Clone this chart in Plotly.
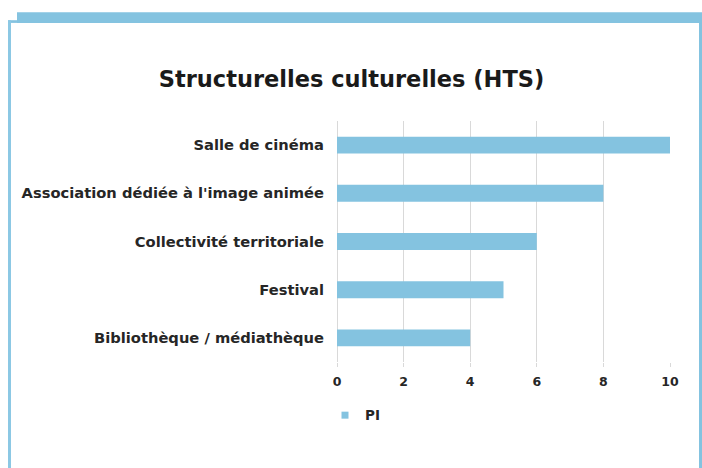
import plotly.graph_objects as go

categories = ["Salle de cinéma", "Association dédiée à l'image animée",
              "Collectivité territoriale", "Festival", "Bibliothèque / médiathèque"]
values = [10, 8, 6, 5, 4]
series_name = "PI"
title_text = "Structurelles culturelles (HTS)"
x_ticks = [0, 2, 4, 6, 8, 10]

BLUE = "#84C3E0"
W, H = 702, 468
PLOT_L, PLOT_R, PLOT_T, PLOT_B = 337, 670, 121, 362.5  # page pixels
L, R, T, B = PLOT_L, W - PLOT_R, PLOT_T, H - PLOT_B
pw, ph = PLOT_R - PLOT_L, PLOT_B - PLOT_T

def px(x):
    return (x - PLOT_L) / pw

def py(y):
    return (PLOT_B - y) / ph

FONT = "DejaVu Sans"

fig = go.Figure()
fig.add_trace(go.Bar(
    y=categories, x=values, orientation="h",
    marker=dict(color=BLUE, line=dict(width=0)),
    width=0.35, showlegend=False, name=series_name,
))
fig.add_trace(go.Scatter(
    x=[None], y=[None], mode="markers", name=series_name,
    marker=dict(symbol="square", size=7, color=BLUE),
    showlegend=True,
))

shapes = [
    dict(type="rect", xref="paper", yref="paper", x0=px(17), x1=px(703), y0=py(22.7), y1=py(12),
         fillcolor=BLUE, line=dict(width=0), layer="above"),
    dict(type="rect", xref="paper", yref="paper", x0=px(8), x1=px(17), y0=py(22.7), y1=py(20),
         fillcolor=BLUE, line=dict(width=0), layer="above"),
    dict(type="rect", xref="paper", yref="paper", x0=px(8), x1=px(11), y0=py(469), y1=py(20),
         fillcolor="#8CC8E4", line=dict(width=0), layer="above"),
    dict(type="rect", xref="paper", yref="paper", x0=px(699), x1=px(703), y0=py(469), y1=py(22),
         fillcolor=BLUE, line=dict(width=0), layer="above"),
]

fig.update_layout(
    width=W, height=H,
    margin=dict(l=L, r=R, t=T, b=B, pad=0),
    paper_bgcolor="white", plot_bgcolor="white",
    title=dict(text=title_text, x=351.5 / W, xanchor="center", y=1 - 79 / H,
               yanchor="middle",
               font=dict(family=FONT, size=22.5, color="#1a1a1a", weight="bold")),
    font=dict(family=FONT, color="#262626"),
    xaxis=dict(range=[0, 10], tickvals=x_ticks, showgrid=True, gridcolor="#d9d9d9", gridwidth=1,
               zeroline=True, zerolinecolor="#d9d9d9", zerolinewidth=1,
               showline=False, ticks="outside", ticklen=4, tickcolor="#d9d9d9",
               tickfont=dict(size=12.5, color="#262626", weight="bold"), ticklabelstandoff=4,
               fixedrange=True),
    yaxis=dict(autorange="reversed", showgrid=False, zeroline=False, showline=False,
               tickfont=dict(size=14.7, color="#262626", weight="bold"), ticklabelstandoff=12,
               ticks="", fixedrange=True),
    legend=dict(x=px(325), y=py(416), xanchor="left", yanchor="middle", orientation="h",
                font=dict(size=13.5, color="#262626", weight="bold"), itemwidth=30,
                bgcolor="rgba(0,0,0,0)"),
    shapes=shapes,
    bargap=0.65,
)

fig.write_html("out.html", config={"displayModeBar": False},
               post_script="document.body.style.margin='0';document.body.style.overflow='hidden';")
